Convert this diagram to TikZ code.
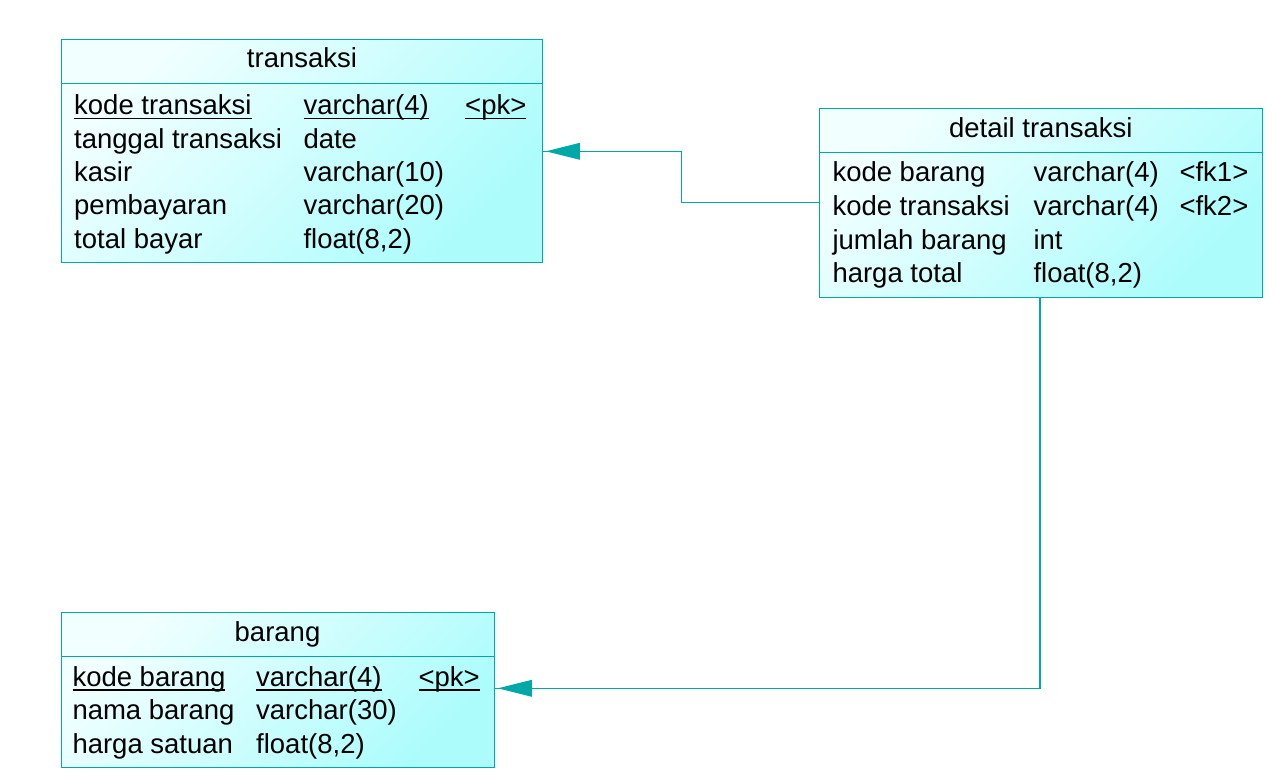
\documentclass[tikz,border=0pt]{standalone}
\usepackage{fontspec}
\setmainfont{Liberation Sans}
\usetikzlibrary{arrows.meta}
\definecolor{edge}{RGB}{0,168,168}
\definecolor{lite}{RGB}{242,255,255}
\definecolor{dark}{RGB}{172,252,252}
\newcommand\ulx[1]{\setbox0\hbox{#1}\rlap{\rule[-4.5pt]{\wd0}{1.6pt}}\box0}
\tikzset{
  tbl/.style={draw=edge, line width=1.1pt, anchor=north west, inner sep=0pt, top color=lite, bottom color=dark, shading angle=45},
  txt/.style={anchor=base west, inner sep=0pt, font=\fontsize{27.5}{33}\selectfont},
  ttl/.style={anchor=base, inner sep=0pt, font=\fontsize{27.5}{33}\selectfont},
  hdr/.style={draw=edge, line width=1.1pt},
  conn/.style={draw=edge, line width=1.3pt},
  tip/.style={-{Triangle[length=34pt,width=17pt]}}
}
\begin{document}
\begin{tikzpicture}[x=1pt,y=-1pt]
\useasboundingbox (0,0) rectangle (1278,778);
\fill[white] (0,0) rectangle (1278,778);
% transaksi
\node[tbl, minimum width=481.3pt, minimum height=223pt] (tr) at (61,39.3) {};
\draw[hdr] (61,83.3) -- (542.3,83.3);
\node[ttl] (trt) at (302,68) {transaksi};
\node[txt] (tr11) at (74,115) {\ulx{kode transaksi}};
\node[txt] (tr12) at (303.3,115) {\ulx{varchar(4)}};
\node[txt] (tr13) at (465,115) {\ulx{<pk>}};
\node[txt] (tr21) at (74,148.3) {tanggal transaksi};
\node[txt] (tr22) at (303.3,148.3) {date};
\node[txt] (tr31) at (74,181.6) {kasir};
\node[txt] (tr32) at (303.3,181.6) {varchar(10)};
\node[txt] (tr41) at (74,214.9) {pembayaran};
\node[txt] (tr42) at (303.3,214.9) {varchar(20)};
\node[txt] (tr51) at (74,248.2) {total bayar};
\node[txt] (tr52) at (303.3,248.2) {float(8,2)};
% detail transaksi
\node[tbl, minimum width=443pt, minimum height=189pt] (dt) at (819.3,107.7) {};
\draw[hdr] (819.3,152.3) -- (1262.3,152.3);
\node[ttl] (dtt) at (1040.8,137.7) {detail transaksi};
\node[txt] (dt11) at (832.3,181.7) {kode barang};
\node[txt] (dt12) at (1033.3,181.7) {varchar(4)};
\node[txt] (dt13) at (1179.3,181.7) {<fk1>};
\node[txt] (dt21) at (832.3,215.4) {kode transaksi};
\node[txt] (dt22) at (1033.3,215.4) {varchar(4)};
\node[txt] (dt23) at (1179.3,215.4) {<fk2>};
\node[txt] (dt31) at (832.3,249.1) {jumlah barang};
\node[txt] (dt32) at (1033.3,249.1) {int};
\node[txt] (dt41) at (832.3,282.8) {harga total};
\node[txt] (dt42) at (1033.3,282.8) {float(8,2)};
% barang
\node[tbl, minimum width=433.6pt, minimum height=155.6pt] (br) at (60.7,611.7) {};
\draw[hdr] (60.7,656.7) -- (494.3,656.7);
\node[ttl] (brt) at (277.5,641.7) {barang};
\node[txt] (br11) at (72.3,686) {\ulx{kode barang}};
\node[txt] (br12) at (256,686) {\ulx{varchar(4)}};
\node[txt] (br13) at (418.3,686) {\ulx{<pk>}};
\node[txt] (br21) at (72.3,719.6) {nama barang};
\node[txt] (br22) at (256,719.6) {varchar(30)};
\node[txt] (br31) at (72.3,753.2) {harga satuan};
\node[txt] (br32) at (256,753.2) {float(8,2)};
% connectors
\coordinate (c1) at (681.7,202.3);
\coordinate (c2) at (681.7,151.3);
\coordinate (c3) at (1040,688.3);
\draw[conn] (dt.west |- c1) -- (c1) -- (c2);
\draw[conn] (c2) -- (tr.east |- c2);
\draw[fill=edge, draw=none] (tr.east |- c2) ++(2.5,0) -- ++(34,-8.5) -- ++(0,17) -- cycle;
\draw[conn] (dt.south -| c3) -- (c3) -- (br.east |- c3);
\draw[fill=edge, draw=none] (br.east |- c3) ++(2.5,0) -- ++(34,-8.5) -- ++(0,17) -- cycle;
\end{tikzpicture}
\end{document}
